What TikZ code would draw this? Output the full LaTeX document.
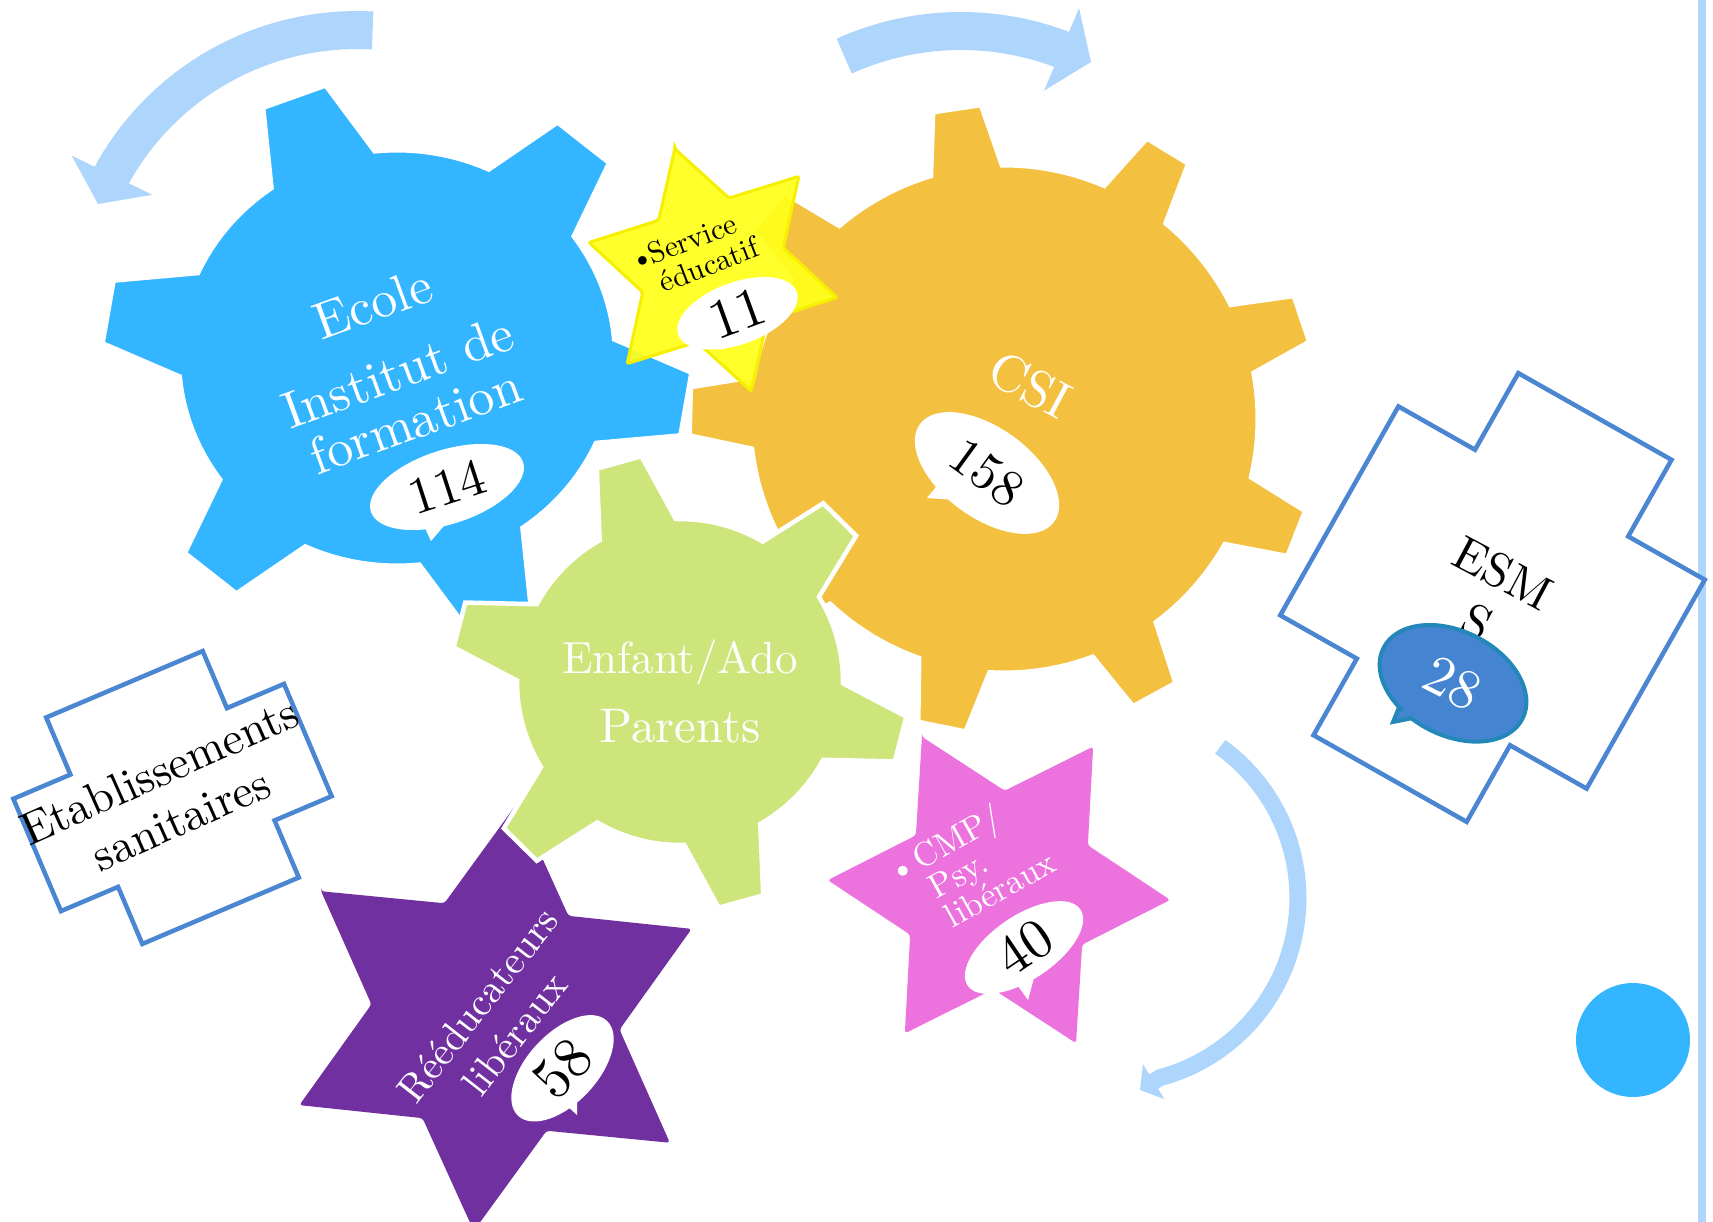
\documentclass[tikz,border=0pt]{standalone}
\usetikzlibrary{shapes.geometric, arrows.meta}

\definecolor{gearblue}{RGB}{51,181,255}
\definecolor{gearorange}{RGB}{244,192,64}
\definecolor{geargreen}{RGB}{205,229,122}
\definecolor{staryellow}{RGB}{255,255,26}
\definecolor{staredge}{RGB}{246,240,0}
\definecolor{starpink}{RGB}{236,114,222}
\definecolor{starpurple}{RGB}{112,48,160}
\definecolor{arrowblue}{RGB}{174,214,253}
\definecolor{crossblue}{RGB}{74,134,210}
\definecolor{bubblefill}{RGB}{69,132,209}
\definecolor{bubbleline}{RGB}{36,135,185}

% gear: style, centre, teeth, body radius, tip radius, first tooth angle, half width at root, half width at tip
\newcommand\gear[8]{%
  \path[shift={(#2)}, #1] ({#6-#7}:#4)
    \foreach \k in {1,...,#3}{
      -- ({#6+360/#3*(\k-1)-#8}:#5) -- ({#6+360/#3*(\k-1)+#8}:#5)
      -- ({#6+360/#3*(\k-1)+#7}:#4)
      \foreach \j in {1,...,12}{
        -- ({#6+360/#3*(\k-1)+#7+(360/#3-2*#7)*\j/12}:#4)}
    } -- cycle;}

% six pointed star: style, centre, outer radius, angle of first point
\newcommand\hexstar[4]{%
  \path[shift={(#2)}, #1] (#4:#3)
    \foreach \k in {1,...,6}{
      -- ({#4+60*\k-30}:{0.58*#3}) -- ({#4+60*\k}:#3)} -- cycle;}

% cross outline: style, centre, angle, half width, half height, notch
\newcommand\plusoutline[6]{%
  \path[shift={(#2)}, rotate=#3, #1]
    (-#4+#6,-#5) -- (#4-#6,-#5) -- (#4-#6,-#5+#6) -- (#4,-#5+#6)
    -- (#4,#5-#6) -- (#4-#6,#5-#6) -- (#4-#6,#5) -- (-#4+#6,#5)
    -- (-#4+#6,#5-#6) -- (-#4,#5-#6) -- (-#4,-#5+#6) -- (-#4+#6,-#5+#6) -- cycle;}

\begin{document}
\begin{tikzpicture}[x=1pt, y=-1pt,
    gearlabel/.style={text=white, inner sep=0pt, align=center},
    starlabel/.style={inner sep=0pt, align=left},
    boxlabel/.style={text=black, inner sep=0pt, align=center},
    bubble/.style={ellipse, fill=white, inner sep=0pt, text=black},
    turnarrow/.style={arrowblue, line width=38pt},
    crossline/.style={draw=crossblue, fill=white, line width=4.5pt}]

  \useasboundingbox (0,0) rectangle (1713,1222);
  \fill[white] (0,0) rectangle (1713,1222);
  \clip (0,0) rectangle (1713,1222);

  % turning arrows
  \draw[turnarrow, -{Triangle[length=32pt, width=88pt]}]
    plot[domain=-86.8:-150, samples=30] ({357+280*cos(\x)}, {310+280*sin(\x)}) -- (98,204);
  \draw[turnarrow, -{Triangle[length=32pt, width=88pt]}]
    plot[domain=-114.2:-70, samples=30] ({961+285*cos(\x)}, {316+285*sin(\x)}) -- (1091,62);
  \draw[arrowblue, line width=17pt, -{Triangle[length=16pt, width=40pt]}]
    plot[domain=-54.4:75, samples=40] ({1112+186*cos(\x)}, {898+186*sin(\x)}) -- (1140,1090);

  \draw[arrowblue, line width=8pt] (1702,0) -- (1702,1222);
  \fill[gearblue] (1633,1040) circle[radius=57pt];

  % gears and stars
  \gear{fill=gearblue, draw=white, line width=3pt, xscale=1.05}{397,358}{6}{207}{280}{-110.5}{14.5}{6.4}
  \gear{fill=gearorange, draw=white, line width=3pt}{1004,419}{9}{253}{314}{-98.6}{8}{4.3}
  \hexstar{fill=staryellow, fill opacity=0.92, draw=staredge, line width=3pt, rounded corners=2pt}{713,270}{127}{-107.5}
  \hexstar{fill=starpurple, rounded corners=3pt}{495.5,1017}{215}{-144.2}
  \gear{fill=geargreen, draw=white, line width=4.5pt}{680,682}{6}{163}{229}{-105.5}{14}{5.8}
  \hexstar{fill=starpink, rounded corners=3pt}{999,890}{171.5}{-116.7}

  % crosses
  \plusoutline{crossline}{172.5,797.5}{23}{147}{123}{62}
  \plusoutline{crossline}{1492.5,597.5}{-29.5}{176}{208}{88}

  % labels
  \node[gearlabel, font=\fontsize{10}{10}\selectfont, scale=5.2, rotate=20] (ecole) at (394,362)
    {Ecole\\[4pt]Institut de\\formation};
  \node[gearlabel, font=\fontsize{10}{10}\selectfont, scale=5.2, rotate=-28] (csi) at (1030,385) {CSI};
  \node[gearlabel, font=\fontsize{10}{15.3}\selectfont, scale=4.5] (enfant) at (680,691)
    {Enfant/Ado\\\scalebox{1.08}{Parents}};
  \node[starlabel, font=\fontsize{10}{10}\selectfont, scale=3, rotate=21] (service) at (694,254)
    {\makebox[0.65em][l]{\textbullet}Service\\\hspace*{0.65em}éducatif};
  \node[starlabel, text=white, font=\fontsize{10}{9.7}\selectfont, scale=3.4, rotate=29] (cmp) at (971,866)
    {\makebox[0.85em][l]{\textbullet}CMP/\\\hspace*{0.85em}Psy.\\\hspace*{0.85em}libéraux};
  \node[gearlabel, font=\fontsize{10}{11.75}\selectfont, scale=4, rotate=52] (reeduc) at (496,1019)
    {Rééducateurs\\libéraux};
  \node[boxlabel, font=\fontsize{10}{11.5}\selectfont, scale=4.6, rotate=24] (etab) at (170,795)
    {Etablissements\\sanitaires};
  \node[boxlabel, font=\fontsize{10}{11.67}\selectfont, scale=4.8, rotate=-28] (esms) at (1490,598) {ESM\\S};

  % speech bubbles
  \coordinate (t114) at (431,541);
  \fill[white] (424,526) -- (t114) -- (449,520) -- cycle;
  \node[bubble, minimum width=160pt, minimum height=74pt, rotate=18] (n114) at (447,487)
    {\scalebox{5.2}{114}};

  \coordinate (t11) at (722,350);
  \fill[white] (717,335) -- (t11) -- (737,336) -- cycle;
  \node[bubble, minimum width=126pt, minimum height=62pt, rotate=20] (n11) at (737.5,313.3)
    {\scalebox{5.6}{11}};

  \coordinate (t158) at (927,498);
  \fill[white] (940,482) -- (t158) -- (955,500) -- cycle;
  \node[bubble, minimum width=166pt, minimum height=90pt, rotate=-36] (n158) at (987,473)
    {\scalebox{5.2}{158}};

  \coordinate (t40) at (1028,1000);
  \fill[white] (1018,986) -- (t40) -- (1034,978) -- cycle;
  \node[bubble, minimum width=136pt, minimum height=64pt, rotate=34] (n40) at (1024,947.5)
    {\scalebox{5.6}{40}};

  \coordinate (t58) at (577,1115);
  \fill[white] (565,1104) -- (t58) -- (577,1097) -- cycle;
  \node[bubble, minimum width=130pt, minimum height=70pt, rotate=47] (n58) at (562.5,1068.3)
    {\scalebox{5.8}{58}};

  \coordinate (t28) at (1393,722);
  \filldraw[fill=bubblefill, draw=bubbleline, line width=4pt] (1402,700) -- (t28) -- (1423,716) -- cycle;
  \node[bubble, fill=bubblefill, draw=bubbleline, line width=4pt, text=white,
    minimum width=156pt, minimum height=104pt, rotate=-27] (n28) at (1453,683.3)
    {\scalebox{5.6}{28}};
  \fill[bubblefill] (1408,698) -- (1398.5,718.5) -- (1426.6,712.7) -- cycle;
\end{tikzpicture}
\end{document}
